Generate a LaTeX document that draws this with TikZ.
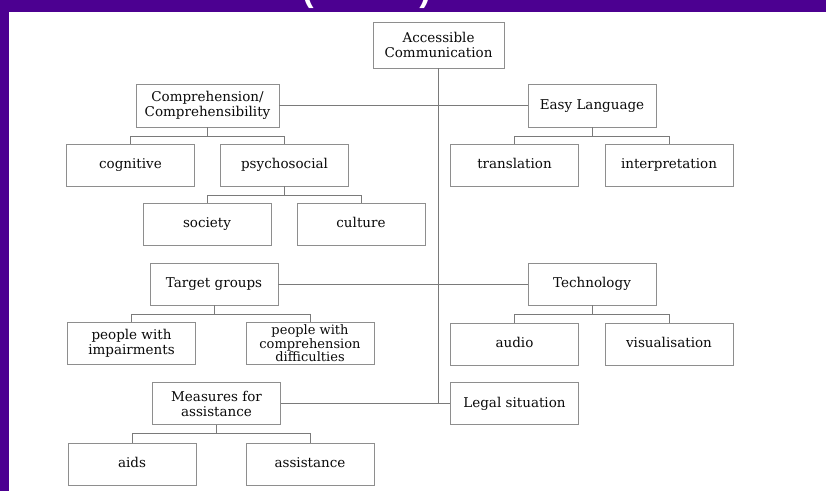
\documentclass[tikz,border=0pt]{standalone}
\usepackage{fontspec}
\setmainfont{DejaVu Serif}
\newfontfamily\titlefont{Liberation Sans}
\usepackage{xcolor}
\usepackage{tikz}
\usetikzlibrary{positioning,calc}
\definecolor{slidepurple}{HTML}{4C0091}
\definecolor{boxgray}{HTML}{8E8E8E}
\definecolor{linegray}{HTML}{7A7A7A}
\definecolor{textdark}{HTML}{0A0A0A}
\tikzset{
  topicbox/.style={draw=boxgray, line width=0.8pt, fill=white, text=textdark,
    align=center, minimum width=128pt, minimum height=42pt, inner sep=1pt,
    font=\fontsize{13.5}{15}\selectfont},
  onebox/.style={topicbox, text height=10pt, text depth=3pt},
  link/.style={draw=linegray, line width=0.8pt},
}

\begin{document}
\begin{tikzpicture}[x=1pt, y=-1pt]
    % slide frame
    \fill[white] (0,0) rectangle (826,491);
    \fill[slidepurple] (0,0) rectangle (826,12);
    \fill[slidepurple] (0,0) rectangle (9,491);
    \useasboundingbox (0,0) rectangle (826,491);
    \begin{scope}
      \clip (0,0) rectangle (826,12);
      \node[anchor=south, inner sep=0pt, text=white, font=\titlefont\bfseries\fontsize{34}{40}\selectfont] (tparl) at (308,9) {(};
      \node[anchor=south, inner sep=0pt, text=white, font=\titlefont\bfseries\fontsize{34}{40}\selectfont] (tparr) at (425,9) {)};
    \end{scope}

    % main branches
    \node[topicbox, minimum width=131pt, minimum height=46pt] (acc) at (438.5,45) {Accessible\\Communication};
    \node[topicbox, minimum width=143pt, minimum height=43pt] (comp) at (207.5,105.5) {Comprehension/\\Comprehensibility};
    \node[onebox, minimum height=43pt] (easy) at (592,105.5) {Easy Language};
    \node[onebox] (target) at (214,284) {Target groups};
    \node[onebox] (tech) at (592,284) {Technology};
    \node[topicbox] (meas) at (216.5,403.5) {Measures for\\assistance};
    \node[onebox] (legal) at (514.5,403.5) {Legal situation};

    % sub-topics
    \node[onebox] (cog) at (130.5,165) {cognitive};
    \node[onebox] (psy) at (284.5,165) {psychosocial};
    \node[onebox] (trans) at (514.5,165) {translation};
    \node[onebox] (interp) at (669,165) {interpretation};
    \node[onebox] (soc) at (207,224) {society};
    \node[onebox] (cult) at (361,224) {culture};
    \node[topicbox] (pwi) at (131.5,343.5) {people with\\impairments};
    \node[topicbox, font=\fontsize{13}{12}\selectfont] (pwc) at (310,343.5) {people with\\comprehension\\difficulties};
    \node[onebox] (audio) at (514.5,344) {audio};
    \node[onebox] (visual) at (669,344) {visualisation};
    \node[onebox] (aids) at (132,464) {aids};
    \node[onebox] (assist) at (310,464) {assistance};

    % trunk and branches
    \draw[link] (acc.south) -- (acc.south |- legal.west);
    \draw[link] (comp.east) -- (easy.west);
    \draw[link] (target.east) -- (tech.west);
    \draw[link] (meas.east) -- (legal.west);

    % forks
    \draw[link] (comp.south) -- ++(0,8.5) coordinate (comp-fork);
    \draw[link] (cog.north) |- (comp-fork) -| (psy.north);
    \draw[link] (easy.south) -- ++(0,8.5) coordinate (easy-fork);
    \draw[link] (trans.north) |- (easy-fork) -| (interp.north);
    \draw[link] (psy.south) -- ++(0,8.5) coordinate (psy-fork);
    \draw[link] (soc.north) |- (psy-fork) -| (cult.north);
    \draw[link] (target.south) -- ++(0,8.5) coordinate (target-fork);
    \draw[link] (pwi.north) |- (target-fork) -| (pwc.north);
    \draw[link] (tech.south) -- ++(0,8.5) coordinate (tech-fork);
    \draw[link] (audio.north) |- (tech-fork) -| (visual.north);
    \draw[link] (meas.south) -- ++(0,8.5) coordinate (meas-fork);
    \draw[link] (aids.north) |- (meas-fork) -| (assist.north);
  \end{tikzpicture}
\end{document}
